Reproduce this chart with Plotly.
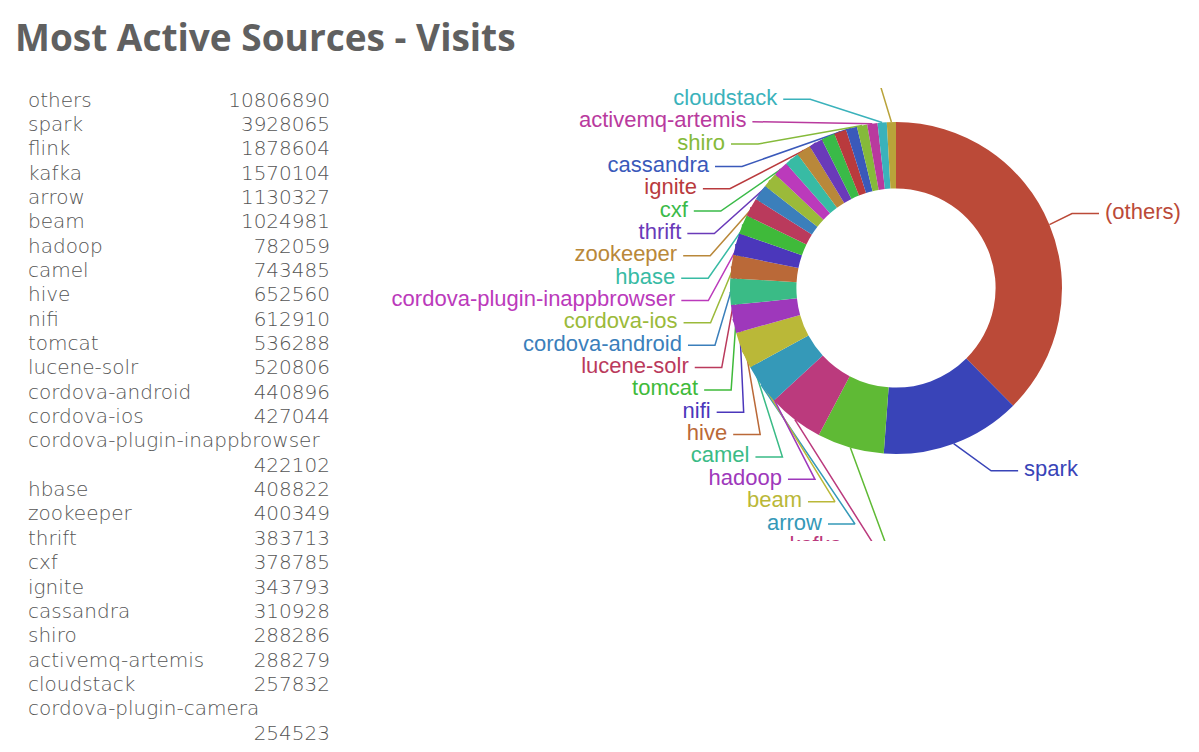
import numpy as np
import plotly.graph_objects as go

# data
sources = ["others", "spark", "flink", "kafka", "arrow", "beam", "hadoop", "camel", "hive", "nifi",
           "tomcat", "lucene-solr", "cordova-android", "cordova-ios", "cordova-plugin-inappbrowser",
           "hbase", "zookeeper", "thrift", "cxf", "ignite", "cassandra", "shiro", "activemq-artemis",
           "cloudstack", "cordova-plugin-camera"]
visits = [10806890, 3928065, 1878604, 1570104, 1130327, 1024981, 782059, 743485, 652560, 612910,
          536288, 520806, 440896, 427044, 422102, 408822, 400349, 383713, 378785, 343793, 310928,
          288286, 288279, 257832, 254523]
colors = ["#bb4a38", "#3944b8", "#5fba35", "#bb3a7d", "#3599b8", "#bab838", "#9e38bb", "#3abb86",
          "#ba6938", "#4b37bb", "#3fba3a", "#ba3a5c", "#3b7fbb", "#9bba3a", "#bb3abb", "#38bba4",
          "#b9883a", "#6a3ab9", "#3aba48", "#b93a3d", "#3a59ba", "#85ba3a", "#b93a9e", "#3ab2bb",
          "#b9a33a"]

# page geometry, in window pixels (the html body keeps an 8px margin)
W, H, OFF = 1199, 752, 8
FW, FH = W - 2 * OFF, H - 2 * OFF
CX, CY, R = 896, 288, 166          # donut centre / outer radius
CLIP = (380, 88, 541)              # visible box of the donut panel: left, top, bottom
ROW = 22.35                        # label spacing
RA, RB = 188, 212                  # ellipse the label elbows sit on

# ---- label layout (derived from the slice angles) ----
vals = np.array(visits, dtype=float)
ends = np.cumsum(vals) / vals.sum() * 2 * np.pi
mids = ends - vals / vals.sum() * np.pi
lab_y = CY - 195 * np.cos(mids)
side = np.where(np.sin(mids) > 0, 1, -1)

left = sorted([i for i in range(len(vals)) if side[i] < 0], key=lambda i: lab_y[i])
prev = None
for i in left:
    if prev is None:
        lab_y[i] = min(lab_y[i], CY - R - 45)
    else:
        lab_y[i] = max(lab_y[i], lab_y[prev] + ROW)
    prev = i

elbow_dx = np.zeros(len(vals))
for group in (left, [i for i in range(len(vals)) if side[i] > 0]):
    last = None
    for i in group:
        dy = lab_y[i] - CY
        if abs(dy) < RB:
            elbow_dx[i] = RA * np.sqrt(1 - dy * dy / RB ** 2)
        else:
            elbow_dx[i] = max(elbow_dx[last] - 20, 0)
        last = i

fig = go.Figure()

fig.add_trace(go.Pie(
    values=visits, labels=sources, sort=False, direction="clockwise", rotation=0,
    hole=0.6, textinfo="none", showlegend=False,
    marker=dict(colors=colors, line=dict(width=0)),
    domain=dict(x=[(CX - R - OFF) / FW, (CX + R - OFF) / FW],
                y=[1 - (CY + R - OFF) / FH, 1 - (CY - R - OFF) / FH]),
))

# leader lines
for i in range(len(vals)):
    ex = CX + side[i] * elbow_dx[i]
    fig.add_trace(go.Scatter(
        x=[CX + R * np.sin(mids[i]), ex, ex + side[i] * 27],
        y=[CY - R * np.cos(mids[i]), lab_y[i], lab_y[i]],
        mode="lines", line=dict(color=colors[i], width=1.5),
        hoverinfo="skip", showlegend=False,
    ))

# slice labels
chart_names = ["(%s)" % s if s == "others" else s for s in sources]
for sgn, pos in ((-1, "middle left"), (1, "middle right")):
    idx = [i for i in range(len(vals)) if side[i] == sgn]
    fig.add_trace(go.Scatter(
        x=[CX + sgn * (elbow_dx[i] + 33) for i in idx],
        y=[lab_y[i] for i in idx],
        text=[chart_names[i] for i in idx],
        mode="text", textposition=pos,
        textfont=dict(family="Liberation Sans, Arial", size=22, color=[colors[i] for i in idx]),
        hoverinfo="skip", showlegend=False,
    ))

# table on the left
row = 0
name_y, val_y = [], []
for s in sources:
    name_y.append(101.5 + 24.35 * row)
    if len(s) > 20:
        row += 1
    val_y.append(101.5 + 24.35 * row)
    row += 1

tfont = dict(family="DejaVu Sans", size=20, color="#555555", weight=200)
fig.add_trace(go.Scatter(
    x=[28] * len(sources), y=name_y, text=sources, mode="text", textposition="middle right",
    textfont=tfont, xaxis="x2", yaxis="y2", hoverinfo="skip", showlegend=False,
))
fig.add_trace(go.Scatter(
    x=[330] * len(visits), y=val_y, text=[str(v) for v in visits], mode="text",
    textposition="middle left", textfont=tfont, xaxis="x2", yaxis="y2",
    hoverinfo="skip", showlegend=False,
))

hidden = dict(visible=False, showgrid=False, zeroline=False, fixedrange=True)
fig.update_layout(
    width=FW, height=FH,
    margin=dict(l=0, r=0, t=0, b=0),
    paper_bgcolor="white", plot_bgcolor="rgba(0,0,0,0)",
    title=dict(
        text="Most Active Sources - Visits",
        x=(15 - OFF) / FW, xref="container", xanchor="left",
        y=1 - (38 - OFF) / FH, yref="container", yanchor="middle",
        font=dict(family="Open Sans", size=37, color="#606060", weight="bold"),
    ),
    xaxis=dict(domain=[(CLIP[0] - OFF) / FW, 1], range=[CLIP[0], OFF + FW], **hidden),
    yaxis=dict(domain=[1 - (CLIP[2] - OFF) / FH, 1 - (CLIP[1] - OFF) / FH],
               range=[CLIP[2], CLIP[1]], **hidden),
    xaxis2=dict(domain=[0, 1], range=[OFF, OFF + FW], anchor="y2", **hidden),
    yaxis2=dict(domain=[0, 1], range=[OFF + FH, OFF], anchor="x2", **hidden),
)

fig.write_html("out.html")
